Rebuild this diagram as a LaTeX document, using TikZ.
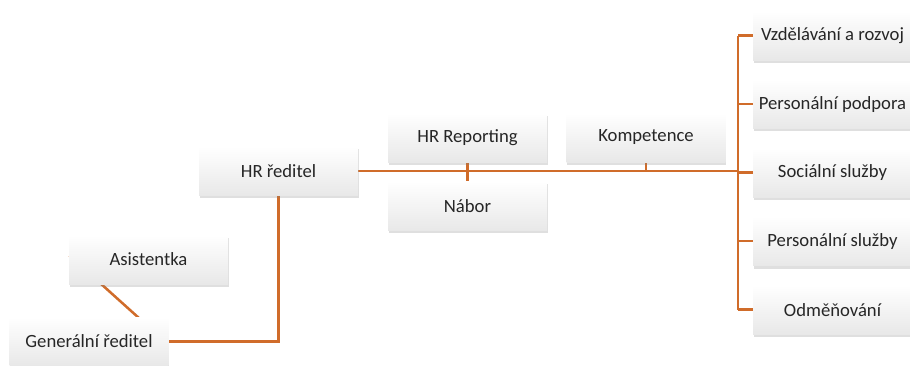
\documentclass[tikz,border=0pt]{standalone}
\usepackage{fontspec}
\setmainfont{Carlito}
\usetikzlibrary{positioning, shadows, calc, backgrounds}
\definecolor{linkorange}{RGB}{208, 108, 42}
\definecolor{boxgray}{RGB}{232, 232, 232}

\begin{document}
\begin{tikzpicture}[
        x=0.75pt, y=-0.75pt,
        node distance=14.25pt,
        box/.style={rectangle, top color=white, bottom color=boxgray,
                    minimum width=119.25pt, minimum height=36.75pt,
                    inner sep=0pt, align=center, text=black!85,
                    font=\fontsize{14}{16}\selectfont,
                    drop shadow={opacity=0.25, shadow xshift=0.6pt, shadow yshift=-2.2pt}},
        link/.style={draw=linkorange, line width=1.9pt}
    ]
        \useasboundingbox (0,0) rectangle (910,365);

        % Left part
        \node[box] (gen) at (89,341.5) {Generální ředitel};
        \node[box] (asist) at (148.5,259.5) {Asistentka};
        \node[box] (hr) at (278.5,171) {HR ředitel};

        % Middle boxes
        \node[box] (rep) at (467.5,137.5) {HR Reporting};
        \node[box, below=of rep] (nabor) {Nábor};
        \node[box, right=of rep] (komp) {Kompetence};

        % Right column
        \node[box] (vzd) at (832.5,35.5) {Vzdělávání a rozvoj};
        \node[box, below=of vzd] (ppod) {Personální podpora};
        \node[box, below=of ppod] (soc) {Sociální služby};
        \node[box, below=of soc] (pslu) {Personální služby};
        \node[box, below=of pslu] (odm) {Odměňování};

        \coordinate (bus) at (738,171);
        \coordinate (diagA) at (69.5,255.5);
        \coordinate (diagB) at (160,337);

        % Lines
        \begin{scope}[on background layer]
            \draw[link] (diagA) -- (diagB);
            \draw[link] (gen.east) -| (hr.south);
            \draw[link] (hr.east) -- (bus);
            \draw[link] (rep.south) -- (nabor.north);
            \draw[link] (komp.south) -- (komp.south |- hr.east);
            \draw[link] (bus |- vzd.west) -- (bus |- odm.west);
            \foreach \n in {vzd, ppod, soc, pslu, odm}
                \draw[link] (bus |- \n.west) -- (\n.west);
        \end{scope}
    \end{tikzpicture}
\end{document}
